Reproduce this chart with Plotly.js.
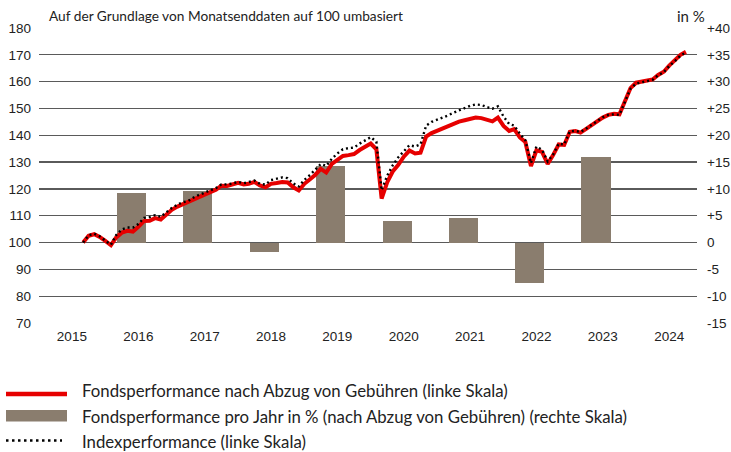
<!DOCTYPE html>
<html><head><meta charset="utf-8">
<script src="https://cdn.plot.ly/plotly-3.0.1.min.js"></script>
<style>html,body{margin:0;padding:0;background:#fff}#chart{width:731px;height:452px}</style>
</head><body><div id="chart"></div>
<script>
// ---- data ----
const firstMonth = {year: 2015, month: 9};   // first month-end value (Sep 2015 = 100)
const fundValues = [
  100, 102.5, 103.1, 102.1, 100.6, 99.0, 101.9, 103.7, 104.4, 104.1, 105.9, 108.0,
  108.1, 109.1, 108.6, 110.5, 112.2, 113.4, 114.3, 114.9, 116.2, 117.2, 117.8, 118.8,
  119.7, 121.2, 121.1, 121.6, 122.3, 121.7, 121.9, 122.6, 121.3, 120.6, 121.9, 122.2,
  122.6, 122.4, 120.6, 119.4, 121.9, 123.6, 125.2, 127.5, 126.1, 129.3, 130.8, 132.3,
  132.6, 133.0, 134.5, 135.9, 136.9, 134.8, 116.4, 122.5, 126.5, 129.0, 132.0, 134.3,
  133.2, 133.5, 139.5, 140.8, 141.7, 142.6, 143.6, 144.5, 145.1, 145.6, 146.2, 146.6,
  146.4, 145.8, 145.2, 146.6, 143.5, 141.6, 142.3, 139.2, 137.5, 128.5, 134.4, 133.8,
  129.3, 132.6, 136.6, 136.4, 141.3, 141.6, 141.0, 142.4, 143.9, 145.3, 146.6, 147.6,
  148.0, 147.8, 153.0, 157.6, 159.6, 160.1, 160.4, 160.8, 162.5, 163.7, 166.0, 167.8,
  170.0, 171.1
];
const indexValues = [
  100, 102.7, 103.3, 102.3, 100.7, 99.2, 102.8, 104.9, 105.6, 105.6, 106.9, 109.2,
  109.5, 110.2, 109.6, 111.4, 112.9, 114.1, 115.0, 115.5, 116.8, 117.8, 118.6, 119.5,
  120.3, 121.7, 121.7, 122.0, 122.6, 122.1, 122.5, 123.1, 121.9, 121.6, 123.3, 123.9,
  124.3, 124.0, 122.0, 120.9, 123.4, 125.2, 127.2, 129.3, 128.6, 131.2, 133.2, 134.8,
  135.2, 135.4, 136.9, 138.1, 139.3, 137.6, 119.5, 125.0, 128.8, 131.8, 134.2, 136.3,
  135.8, 136.6, 143.6, 145.0, 145.8, 146.5, 147.4, 148.4, 149.3, 150.1, 151.0, 151.5,
  151.3, 150.5, 149.9, 150.8, 147.0, 144.2, 143.6, 140.6, 138.2, 129.6, 135.8, 134.6,
  130.2, 132.8, 136.9, 136.5, 141.5, 141.6, 141.2, 142.5, 143.9, 145.4, 146.7, 147.6,
  147.8, 147.6, 152.9, 157.4, 159.3, 159.9, 160.2, 160.7, 162.4, 163.5, 165.8, 167.6,
  169.7, 170.9
];
const barYears = [2016, 2017, 2018, 2019, 2020, 2021, 2022, 2023];
const barValues = [9.3, 9.6, -1.7, 14.2, 4.1, 4.6, -7.6, 16.0];
const yearLabels = [2015, 2016, 2017, 2018, 2019, 2020, 2021, 2022, 2023, 2024];
const leftTicks = [70, 80, 90, 100, 110, 120, 130, 140, 150, 160, 170, 180];
const rightTicks = [-15, -10, -5, 0, 5, 10, 15, 20, 25, 30, 35, 40];
const titleText = 'Auf der Grundlage von Monatsenddaten auf 100 umbasiert';
const unitText = 'in %';
const legendLabels = [
  'Fondsperformance nach Abzug von Gebühren (linke Skala)',
  'Fondsperformance pro Jahr in % (nach Abzug von Gebühren) (rechte Skala)',
  'Indexperformance (linke Skala)'
];

// ---- helpers ----
function monthDates(start, n) {
  const out = [];
  for (let i = 0; i < n; i++) {
    const m0 = start.month - 1 + i;
    const y = start.year + Math.floor(m0 / 12);
    const m = (m0 % 12) + 1;
    out.push(y + '-' + String(m).padStart(2, '0') + '-01');
  }
  return out;
}
const dates = monthDates(firstMonth, fundValues.length);

const W = 731, H = 452;
const L = 39, R = 34, T = 28, B = 129;
const PW = W - L - R, PH = H - T - B;
const px = x => (x - L) / PW;
const py = y => (H - B - y) / PH;

const TICKFONT = 'Liberation Sans, Arial, sans-serif';
const TEXTFONT = 'Lato, Liberation Sans, Arial, sans-serif';
const TXT = '#222222';
const RED = '#e60000';
const BAR = '#8a7d6e';
const GRID = '#5a5a5a';

const traces = [
  {
    type: 'bar', x: barYears.map(y => y + '-05-25'), y: barValues,
    width: 160 * 86400000, marker: {color: BAR, line: {width: 0}},
    yaxis: 'y', xaxis: 'x', hoverinfo: 'skip', showlegend: false
  },
  {
    type: 'scatter', mode: 'lines', x: dates, y: fundValues,
    line: {color: RED, width: 4}, yaxis: 'y2', showlegend: false
  },
  {
    type: 'scatter', mode: 'lines', x: dates, y: indexValues,
    line: {color: '#000000', width: 2.4, dash: '2px,3px'}, yaxis: 'y2', showlegend: false
  }
];

const shapes = [
  {type: 'line', xref: 'paper', yref: 'paper', x0: px(6), x1: px(67), y0: py(394), y1: py(394),
   line: {color: RED, width: 4.5}},
  {type: 'rect', xref: 'paper', yref: 'paper', x0: px(6), x1: px(67), y0: py(410), y1: py(421.5),
   fillcolor: BAR, line: {width: 0}},
  {type: 'line', xref: 'paper', yref: 'paper', x0: px(6), x1: px(62), y0: py(440.5), y1: py(440.5),
   line: {color: '#000', width: 2.6, dash: '2.5px,3.5px'}}
];

const legendY = [390, 416, 441];
const annotations = legendLabels.map((t, i) => ({
  text: t, xref: 'paper', yref: 'paper', x: px(80), y: py(legendY[i]),
  xanchor: 'left', yanchor: 'middle', showarrow: false,
  font: {family: TEXTFONT, size: 16.8, color: TXT}
}));
annotations.push({
  text: unitText, xref: 'paper', yref: 'paper', x: px(707), y: py(16),
  xanchor: 'right', yanchor: 'middle', showarrow: false,
  font: {family: TEXTFONT, size: 15, color: TXT}
});

const layout = {
  width: W, height: H,
  margin: {l: L, r: R, t: T, b: B, pad: 0},
  paper_bgcolor: '#ffffff', plot_bgcolor: '#ffffff',
  showlegend: false,
  bargap: 0,
  title: {text: titleText, x: 49 / W, xanchor: 'left', xref: 'container',
          y: 1 - 16 / H, yanchor: 'middle', yref: 'container',
          font: {family: TEXTFONT, size: 13.7, color: TXT}},
  font: {family: TICKFONT, size: 13.5, color: TXT},
  xaxis: {
    type: 'date', range: ['2015-01-01', '2024-12-01'],
    tickvals: yearLabels.map(y => y + '-07-01'), ticktext: yearLabels.map(String),
    showgrid: false, zeroline: false, showline: false, ticks: '',
    ticklabelstandoff: 3,
    tickfont: {family: TICKFONT, size: 13.5, color: TXT}, fixedrange: true
  },
  yaxis: {
    side: 'right', range: [-15, 40],
    tickvals: rightTicks, ticktext: rightTicks.map(v => v > 0 ? '+' + v : String(v)),
    showgrid: true, gridcolor: GRID, gridwidth: 1.2, zeroline: false, showline: false,
    ticks: '', ticklabelstandoff: 9,
    tickfont: {family: TICKFONT, size: 13.5, color: TXT}
  },
  yaxis2: {
    side: 'left', overlaying: 'y', range: [70, 180],
    tickvals: leftTicks, ticktext: leftTicks.map(String),
    showgrid: false, zeroline: false, showline: false, ticks: '', ticklabelstandoff: 7,
    tickfont: {family: TICKFONT, size: 13.5, color: TXT}
  },
  shapes: shapes,
  annotations: annotations
};

Plotly.newPlot('chart', traces, layout, {staticPlot: true, displayModeBar: false});
</script>
</body></html>
